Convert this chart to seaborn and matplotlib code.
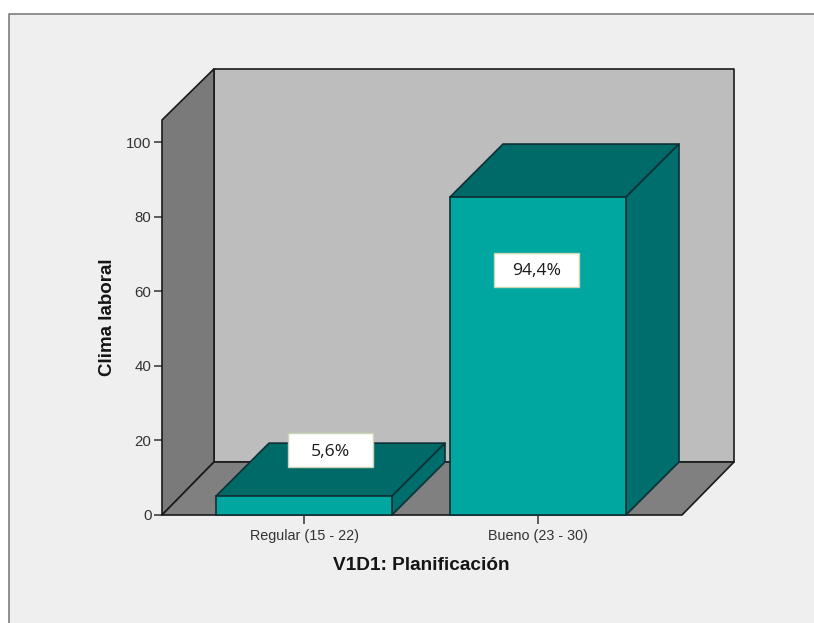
import matplotlib
matplotlib.use("Agg")
import matplotlib.pyplot as plt
from matplotlib.lines import Line2D
from matplotlib.patches import Polygon, Rectangle
import pandas as pd
import seaborn as sns

# Chart values
categories = ["Regular (15 - 22)", "Bueno (23 - 30)"]
percentages = [5.6, 94.4]
percentage_labels = ["5,6%", "94,4%"]
y_ticks = [0, 20, 40, 60, 80, 100]
x_title = "V1D1: Planificación"
y_title = "Clima laboral"

# Layout, in pixels of an 814x623 canvas
W, H = 814, 623
AX_LEFT, AX_RIGHT, AX_BOTTOM, AX_TOP = 162, 682, 515, 142
BAR_SPACING_PX = 234
FIRST_BAR_CENTER_PX = 304
BAR_WIDTH = 176 / BAR_SPACING_PX
BAR_DEPTH_PX = 53
WALL_DEPTH_PX = 52
Y_PX_PER_UNIT = (AX_BOTTOM - AX_TOP) / 100
DEPTH_X = WALL_DEPTH_PX / BAR_SPACING_PX
DEPTH_Y = BAR_DEPTH_PX / Y_PX_PER_UNIT
BAR_DEPTH_X = BAR_DEPTH_PX / BAR_SPACING_PX
WALL_TOP_FRONT = 105.9
WALL_TOP_BACK = 119.6
# Front faces sit ahead of the axis plane, so they shrink against the tick scale
FRONT_FACE_SCALE = 0.903
LABEL_CENTERS = [(0.115, 17.4), (-0.006, 65.7)]
LABEL_TEXT_DROP = 0.4
LABEL_BOX_PX = (85, 34)

# Colours
FRAME_BG = "#efefef"
FRAME_EDGE = "#7d7d7d"
BACK_WALL = "#bdbdbd"
SIDE_WALL = "#7a7a7a"
FLOOR = "#808080"
BAR_FRONT = "#00a6a0"
BAR_TOP = "#006a68"
BAR_SIDE = "#006e6c"
BAR_EDGE = "#0d3035"
WALL_EDGE = "#1a1a1a"

sns.set_theme(style="white")
plt.rcParams["font.family"] = ["Liberation Sans", "DejaVu Sans"]

fig = plt.figure(figsize=(W / 100, H / 100), dpi=100, facecolor="white")


def fx(px):
    return px / W


def fy(py):
    return 1 - py / H


# Outer chart frame: visible on its top and left sides only
fig.patches.append(Rectangle((fx(9), 0), 1 - fx(9), fy(14), transform=fig.transFigure,
                             facecolor=FRAME_BG, edgecolor="none", zorder=-5))
fig.add_artist(Line2D([fx(9), fx(9), 1], [0, fy(14), fy(14)], transform=fig.transFigure,
                      color=FRAME_EDGE, lw=1.2))

ax = fig.add_axes([fx(AX_LEFT), fy(AX_BOTTOM), fx(AX_RIGHT - AX_LEFT), (AX_BOTTOM - AX_TOP) / H])
ax.patch.set_visible(False)

data = pd.DataFrame({"categoria": categories, "porcentaje": percentages})
data["cara_frontal"] = data["porcentaje"] * FRONT_FACE_SCALE

sns.barplot(data=data, x="categoria", y="cara_frontal", color=BAR_FRONT, saturation=1,
            width=BAR_WIDTH, edgecolor=BAR_EDGE, linewidth=1.2, ax=ax, zorder=4)

x_min = (AX_LEFT - FIRST_BAR_CENTER_PX) / BAR_SPACING_PX
x_max = (AX_RIGHT - FIRST_BAR_CENTER_PX) / BAR_SPACING_PX
ax.set_xlim(x_min, x_max)
ax.set_ylim(0, 100)


def face(points, fill, edge=WALL_EDGE, z=1):
    ax.add_patch(Polygon(points, closed=True, facecolor=fill, edgecolor=edge, linewidth=1.2,
                         joinstyle="round", clip_on=False, zorder=z))


# Box walls and floor
face([(x_min + DEPTH_X, DEPTH_Y), (x_max + DEPTH_X, DEPTH_Y),
      (x_max + DEPTH_X, WALL_TOP_BACK), (x_min + DEPTH_X, WALL_TOP_BACK)], BACK_WALL)
face([(x_min, 0), (x_min + DEPTH_X, DEPTH_Y),
      (x_min + DEPTH_X, WALL_TOP_BACK), (x_min, WALL_TOP_FRONT)], SIDE_WALL)
face([(x_min, 0), (x_max, 0), (x_max + DEPTH_X, DEPTH_Y), (x_min + DEPTH_X, DEPTH_Y)], FLOOR, z=2)

# Top and side faces extruded from each front face
for bar in ax.patches[:len(categories)]:
    x0, x1 = bar.get_x(), bar.get_x() + bar.get_width()
    h = bar.get_height()
    face([(x0, h), (x1, h), (x1 + BAR_DEPTH_X, h + DEPTH_Y), (x0 + BAR_DEPTH_X, h + DEPTH_Y)],
         BAR_TOP, edge=BAR_EDGE, z=3)
    face([(x1, 0), (x1 + BAR_DEPTH_X, DEPTH_Y), (x1 + BAR_DEPTH_X, h + DEPTH_Y), (x1, h)],
         BAR_SIDE, edge=BAR_EDGE, z=3)
    bar.set_clip_on(False)

# Value labels in white boxes
box_w = LABEL_BOX_PX[0] / BAR_SPACING_PX
box_h = LABEL_BOX_PX[1] / Y_PX_PER_UNIT
for pos, text, (dx, yc) in zip(range(len(categories)), percentage_labels, LABEL_CENTERS):
    xc = pos + dx
    ax.add_patch(Rectangle((xc - box_w / 2, yc - box_h / 2), box_w, box_h, facecolor="white",
                           edgecolor="#c9d6b4", linewidth=1, clip_on=False, zorder=6))
    ax.text(xc, yc - LABEL_TEXT_DROP, text, ha="center", va="center", fontsize=12.6, color="#1a1a1a",
            family="Open Sans", zorder=7)

# Axes furniture
for spine in ax.spines.values():
    spine.set_visible(False)
ax.set_yticks(y_ticks)
ax.tick_params(axis="y", left=True, length=6, width=1.1, color="#333333", pad=1.5,
               labelsize=10.8, labelcolor="#333333")
ax.tick_params(axis="x", bottom=True, length=6.5, width=1.1, color="#333333", pad=3.5,
               labelsize=10.4, labelcolor="#333333")
ax.set_xlabel(x_title, fontsize=13.7, fontweight="bold", color="#151515")
ax.set_ylabel(y_title, fontsize=13.5, fontweight="bold", color="#151515")
ax.xaxis.set_label_coords((421 - AX_LEFT) / (AX_RIGHT - AX_LEFT), -(565 - AX_BOTTOM) / (AX_BOTTOM - AX_TOP),
                          transform=ax.transAxes)
ax.xaxis.label.set_va("center")
ax.yaxis.set_label_coords(-(AX_LEFT - 108) / (AX_RIGHT - AX_LEFT), (AX_BOTTOM - 317) / (AX_BOTTOM - AX_TOP),
                          transform=ax.transAxes)
ax.yaxis.label.set_va("center")

fig.savefig("out.png", dpi=100, facecolor="white")
